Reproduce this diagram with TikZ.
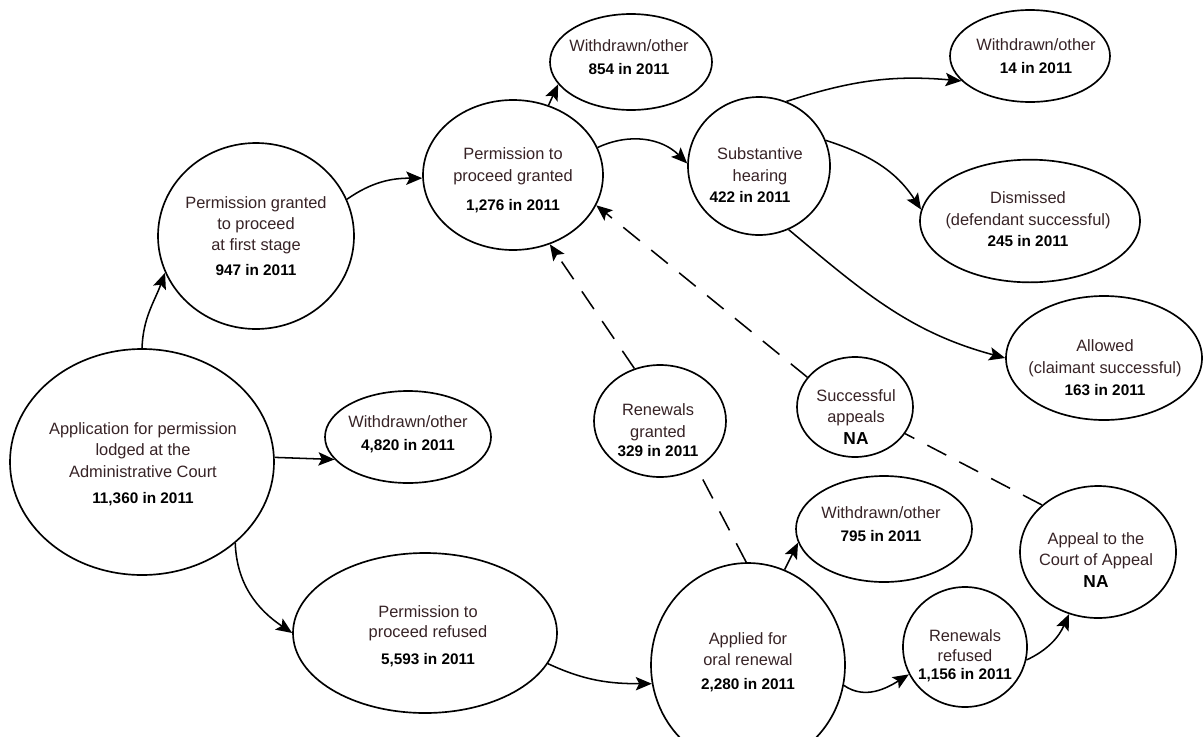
\documentclass[tikz,border=0pt]{standalone}
\usepackage{fontspec}
\setmainfont{Liberation Sans}
\usetikzlibrary{shapes.geometric,arrows.meta}
\definecolor{txtc}{RGB}{55,35,38}
\newcommand{\nb}[1]{{\color{black}\bfseries\fontsize{11.5}{16}\selectfont #1}}
\begin{document}
\begin{tikzpicture}[x=0.75pt,y=0.75pt,
  ell/.style={draw, ellipse, line width=1.25pt, inner sep=0pt},
  lbl/.style={align=center, text=txtc, font=\fontsize{12.3}{16}\selectfont, inner sep=0pt},
  arr/.style={line width=1.15pt, -{Stealth[length=12pt,width=10pt,inset=2.5pt]}},
  dsh/.style={line width=1.15pt, dash pattern=on 16pt off 11pt},
]
\useasboundingbox (0,0) rectangle (1203,-736);
\clip (0,0) rectangle (1203,-736);
\fill[white] (0,0) rectangle (1203,-736);

% ellipses
\node[ell, minimum width=198pt, minimum height=169.5pt] (app) at (142,-462) {};
\node[ell, minimum width=147pt, minimum height=139.5pt] (first) at (256,-236) {};
\node[ell, minimum width=135pt, minimum height=112.5pt] (granted) at (513,-175) {};
\node[ell, minimum width=121.5pt, minimum height=72pt] (wd1) at (631,-62) {};
\node[ell, minimum width=106.5pt, minimum height=103.5pt] (subst) at (759,-166) {};
\node[ell, minimum width=120pt, minimum height=69pt] (wd2) at (1030,-56) {};
\node[ell, minimum width=165pt, minimum height=92pt] (dismissed) at (1030,-221) {};
\node[ell, minimum width=147pt, minimum height=93pt] (allowed) at (1104,-358) {};
\node[ell, minimum width=124.5pt, minimum height=69pt] (wd3) at (408,-437) {};
\node[ell, minimum width=99pt, minimum height=84pt] (rgr) at (660,-421) {};
\node[ell, minimum width=87pt, minimum height=75pt] (succ) at (855,-407) {};
\node[ell, minimum width=132pt, minimum height=79.5pt] (wd4) at (884,-529) {};
\node[ell, minimum width=117pt, minimum height=99pt] (appeal) at (1098,-552) {};
\node[ell, minimum width=198pt, minimum height=120pt] (refused) at (425,-633) {};
\node[ell, minimum width=145.5pt, minimum height=153pt] (applied) at (748,-665) {};
\node[ell, minimum width=93pt, minimum height=90pt] (rref) at (965,-647) {};

% texts
\node[lbl] (appT) at (143,-465) {\strut Application for permission\\ lodged at the\\ Administrative Court\\[4pt] \nb{11,360 in 2011}\strut};
\node[lbl] (firstT) at (256,-237.5) {\strut Permission granted\\ to proceed\\ at first stage\\[2.5pt] \nb{947 in 2011}\strut};
\node[lbl] (grantedT) at (513,-181) {\strut Permission to\\ proceed granted\\[6pt] \nb{1,276 in 2011}\strut};
\node[lbl] (wd1T) at (629,-58.5) {\strut Withdrawn/other\\[1.5pt] \nb{854 in 2011}\strut};
\node[lbl] (substT) at (760,-177) {\strut Substantive\\ hearing\\ \nb{422 in 2011}\hspace*{15pt}\strut};
\node[lbl] (wd2T) at (1036,-58) {\strut Withdrawn/other\\[1.5pt] \nb{14 in 2011}\strut};
\node[lbl] (dismissedT) at (1028,-221) {\strut Dismissed\\ (defendant successful)\\ \nb{245 in 2011}\strut};
\node[lbl] (allowedT) at (1105,-369.5) {\strut Allowed\\ (claimant successful)\\[1pt] \nb{163 in 2011}\strut};
\node[lbl] (wd3T) at (408,-435) {\strut Withdrawn/other\\[1.5pt] \nb{4,820 in 2011}\strut};
\node[lbl] (rgrT) at (658,-432) {\strut Renewals\\ granted\\[-1.5pt] \nb{329 in 2011}\strut};
\node[lbl] (succT) at (856,-418.5) {\strut Successful\\ appeals\\ \nb{\fontsize{13}{16}\selectfont NA}\strut};
\node[lbl] (wd4T) at (881,-526) {\strut Withdrawn/other\\[1.5pt] \nb{795 in 2011}\strut};
\node[lbl] (appealT) at (1096,-561.5) {\strut Appeal to the\\ Court of Appeal\\ \nb{\fontsize{13}{16}\selectfont NA}\strut};
\node[lbl] (refusedT) at (428,-636.5) {\strut Permission to\\[-1pt] proceed refused\\[4pt] \nb{5,593 in 2011}\strut};
\node[lbl] (appliedT) at (748,-663) {\strut Applied for\\ oral renewal\\[2pt] \nb{2,280 in 2011}\strut};
\node[lbl] (rrefT) at (965,-656) {\strut Renewals\\[-1pt] refused\\[-2.5pt] \nb{1,156 in 2011}\strut};

% solid connectors
\draw[arr] (app.90) to[out=88,in=250] (first.202);
\draw[arr] (first.22) to[out=35,in=180] (granted.182);
\draw[arr] (granted.63) -- (wd1.197);
\draw[arr] (granted.18) to[out=25,in=135] (subst.178);
\draw[arr] (subst.67) to[out=18,in=175] (wd2.200);
\draw[arr] (subst.21) to[out=-18,in=123] (dismissed.174);
\draw[arr] (subst.-65) to[out=-40,in=165] (allowed.180);
\draw[arr] (app.2) -- (wd3.197);
\draw[arr] (app.-41) to[out=-88,in=146] (refused.180);
\draw[arr] (refused.-14) to[out=-25,in=180] (applied.191);
\draw[arr] (applied.69) -- (wd4.189);
\draw[arr] (applied.-12) to[out=-35,in=212] (rref.206);
\draw[arr] (rref.-12) to[out=25,in=246] (appeal.245);

% dashed connectors
\draw[dsh] (applied.91) -- (rgr.-52);
\draw[dsh,arr] (rgr.116) -- (granted.-62);
\draw[dsh] (appeal.140) -- (succ.-28);
\draw[dsh,arr] (succ.148) -- (granted.-20);
\end{tikzpicture}
\end{document}
